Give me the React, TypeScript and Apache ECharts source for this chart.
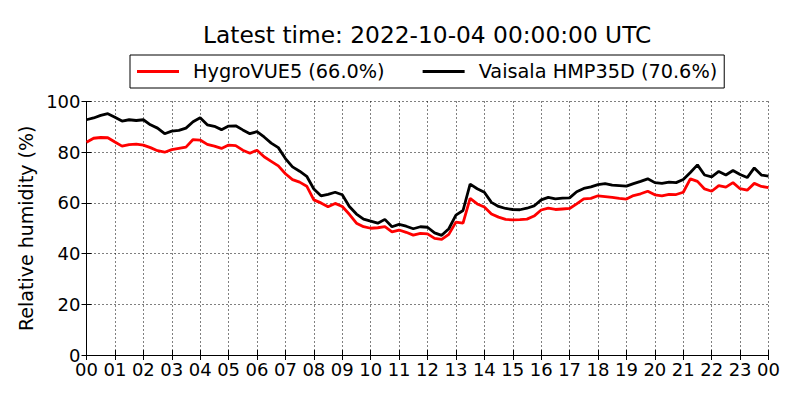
import React, { useEffect, useRef } from "react";
import * as echarts from "echarts";

// Sampling: one reading every 15 minutes from 00:00 to 24:00 (UTC)
const STEP_HOURS = 0.25;

const hourTicks = [
  "00", "01", "02", "03", "04", "05", "06", "07", "08", "09", "10", "11",
  "12", "13", "14", "15", "16", "17", "18", "19", "20", "21", "22", "23", "00",
];

const hygroVUE5 = [
  83.9, 85.5, 85.8, 85.7, 84.0, 82.4, 83.0, 83.2, 82.8, 81.8, 80.6, 80.0,
  81.0, 81.5, 82.0, 85.0, 84.8, 83.1, 82.4, 81.5, 82.8, 82.6, 80.8, 79.6,
  80.8, 78.2, 76.4, 74.6, 71.5, 69.2, 68.2, 66.6, 61.2, 60.0, 58.5, 59.8,
  58.6, 55.5, 52.0, 50.6, 50.0, 50.2, 50.6, 48.6, 49.3, 48.4, 47.3, 48.0,
  47.8, 46.0, 45.6, 47.6, 52.4, 52.0, 61.8, 59.6, 58.4, 55.6, 54.4, 53.5,
  53.3, 53.4, 53.6, 54.8, 57.2, 57.9, 57.4, 57.6, 57.8, 59.6, 61.6, 61.8,
  62.8, 62.5, 62.2, 61.8, 61.5, 62.9, 63.6, 64.6, 63.2, 62.8, 63.4, 63.3,
  64.2, 69.5, 68.5, 65.5, 64.6, 66.8, 66.2, 68.0, 65.6, 65.0, 67.7, 66.5,
  66.0,
];

const vaisalaHMP35D = [
  92.8, 93.5, 94.5, 95.2, 93.8, 92.3, 92.8, 92.5, 92.8, 90.8, 89.5, 87.3,
  88.3, 88.6, 89.5, 92.0, 93.6, 90.8, 90.2, 88.9, 90.3, 90.4, 88.8, 87.3,
  88.1, 86.0, 83.6, 81.8, 77.5, 74.2, 72.5, 70.5, 65.5, 62.8, 63.4, 64.2,
  63.2, 58.6, 55.6, 53.6, 52.8, 52.0, 53.5, 50.6, 51.5, 50.8, 49.8, 50.6,
  50.4, 48.2, 47.2, 49.8, 55.2, 57.0, 67.4, 65.6, 64.2, 60.2, 58.6, 57.8,
  57.4, 57.3, 57.9, 58.8, 61.2, 62.2, 61.6, 61.9, 62.0, 64.4, 65.7, 66.3,
  67.2, 67.6, 67.0, 66.8, 66.6, 67.6, 68.5, 69.5, 68.0, 67.7, 68.2, 68.0,
  69.2, 72.0, 75.0, 71.0, 70.3, 72.4, 71.0, 72.8, 71.2, 70.0, 73.8, 71.0,
  70.6,
];

const seriesNames = ["HygroVUE5 (66.0%)", "Vaisala HMP35D (70.6%)"];
const seriesColors = ["#ff0000", "#000000"];
const titleText = "Latest time: 2022-10-04 00:00:00 UTC";
const yAxisTitle = "Relative humidity (%)";

const FONT = "DejaVu Sans";

export default function App() {
  const ref = useRef<HTMLDivElement>(null);

  useEffect(() => {
    if (!ref.current) return;
    const chart = echarts.init(ref.current, undefined, { renderer: "svg" });
    const toPairs = (vals: number[]) => vals.map((v, i) => [i * STEP_HOURS, v]);
    const tickLen = 5;

    chart.setOption({
      animation: false,
      backgroundColor: "#ffffff",
      textStyle: { fontFamily: FONT, color: "#000" },
      title: {
        text: titleText,
        left: 203,
        top: 23,
        padding: 0,
        textStyle: { fontFamily: FONT, fontSize: 23.3, fontWeight: "normal", color: "#000" },
      },
      legend: {
        left: 130,
        top: 55,
        padding: [7, 7, 7, 7],
        borderColor: "#000",
        borderWidth: 1,
        itemWidth: 42,
        itemHeight: 3,
        itemGap: 38,
        icon: "rect",
        data: seriesNames,
        textStyle: { fontFamily: FONT, fontSize: 19.3, color: "#000", padding: [0, 0, 0, 9] },
      },
      grid: { left: 86.5, right: 31.5, top: 101.5, bottom: 45, containLabel: false },
      xAxis: [
        {
          type: "value",
          min: 0,
          max: 24,
          interval: 1,
          axisLine: { show: true, lineStyle: { color: "#000", width: 1 } },
          axisTick: { show: true, inside: true, length: tickLen, lineStyle: { color: "#000" } },
          axisLabel: {
            color: "#000",
            fontFamily: FONT,
            fontSize: 18,
            margin: 5,
            formatter: (v: number) => hourTicks[Math.round(v)],
          },
          splitLine: { show: true, lineStyle: { color: "#000", width: 1, type: [1, 3] } },
        },
        {
          type: "value",
          position: "top",
          min: 0,
          max: 24,
          interval: 1,
          axisLine: { show: true, lineStyle: { color: "#000", width: 1 } },
          axisTick: { show: true, inside: true, length: tickLen, lineStyle: { color: "#000" } },
          axisLabel: { show: false },
          splitLine: { show: false },
        },
      ],
      yAxis: [
        {
          type: "value",
          min: 0,
          max: 100,
          interval: 20,
          name: yAxisTitle,
          nameLocation: "middle",
          nameGap: 44,
          nameTextStyle: { fontFamily: FONT, fontSize: 19, color: "#000" },
          axisLine: { show: true, lineStyle: { color: "#000", width: 1 } },
          axisTick: { show: true, inside: true, length: tickLen, lineStyle: { color: "#000" } },
          axisLabel: { color: "#000", fontFamily: FONT, fontSize: 18, margin: 6 },
          splitLine: { show: true, lineStyle: { color: "#000", width: 1, type: [1, 3] } },
        },
        {
          type: "value",
          position: "right",
          min: 0,
          max: 100,
          interval: 20,
          axisLine: { show: true, lineStyle: { color: "#000", width: 1 } },
          axisTick: { show: true, inside: true, length: tickLen, lineStyle: { color: "#000" } },
          axisLabel: { show: false },
          splitLine: { show: false },
        },
      ],
      series: [
        {
          name: seriesNames[0],
          type: "line",
          xAxisIndex: 0,
          yAxisIndex: 0,
          data: toPairs(hygroVUE5),
          showSymbol: false,
          symbol: "none",
          color: seriesColors[0],
          lineStyle: { color: seriesColors[0], width: 2.8 },
        },
        {
          name: seriesNames[1],
          type: "line",
          xAxisIndex: 0,
          yAxisIndex: 0,
          data: toPairs(vaisalaHMP35D),
          showSymbol: false,
          symbol: "none",
          color: seriesColors[1],
          lineStyle: { color: seriesColors[1], width: 2.8 },
        },
      ],
    });

    return () => chart.dispose();
  }, []);

  return (
    <div
      ref={ref}
      style={{ position: "absolute", left: 0, top: 0, width: 800, height: 400, background: "#fff" }}
    />
  );
}
